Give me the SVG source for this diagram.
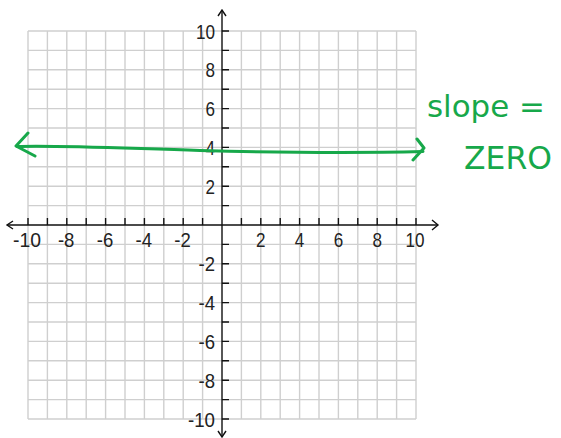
<svg xmlns="http://www.w3.org/2000/svg" width="561" height="438" viewBox="0 0 561 438">
<style>
.grid{stroke:#cfcfcf;stroke-width:1.4;fill:none}
.axis{stroke:#111;stroke-width:1.4;fill:none}
.lbl{font-family:"Liberation Sans",Arial,sans-serif;font-size:21px;fill:#222}
.green{stroke:#17a84a;stroke-width:3;fill:none;stroke-linecap:round;stroke-linejoin:round}
.hand{font-family:"DejaVu Sans","Liberation Sans",sans-serif;fill:#17a84a}
</style>
<rect width="561" height="438" fill="#fff"/>
<g id="grid">
<path class="grid" d="M28,31V419M47.4,31V419M66.8,31V419M86.2,31V419M105.6,31V419M125,31V419M144.4,31V419M163.8,31V419M183.2,31V419M202.6,31V419M241.4,31V419M260.8,31V419M280.2,31V419M299.6,31V419M319,31V419M338.4,31V419M357.8,31V419M377.2,31V419M396.6,31V419M416,31V419"/>
<path class="grid" d="M28,31H416M28,50.4H416M28,69.8H416M28,89.2H416M28,108.6H416M28,128H416M28,147.4H416M28,166.8H416M28,186.2H416M28,205.6H416M28,244.4H416M28,263.8H416M28,283.2H416M28,302.6H416M28,322H416M28,341.4H416M28,360.8H416M28,380.2H416M28,399.6H416M28,419H416"/>
</g>
<g id="axes">
<path class="axis" d="M7,225H438M222,10V437"/>
<path class="axis" d="M13,221L7,225L13,229M432,220L438,225L432,230M218,16L222,10L226,16M218,431L222,437L226,431"/>
<path class="axis" d="M222,31h7M222,50.4h7M222,69.8h7M222,89.2h7M222,108.6h7M222,128h7M222,147.4h7M222,166.8h7M222,186.2h7M222,205.6h7M222,244.4h7M222,263.8h7M222,283.2h7M222,302.6h7M222,322h7M222,341.4h7M222,360.8h7M222,380.2h7M222,399.6h7M222,419h7"/>
<path class="axis" d="M28,225v-7M47.4,225v-7M66.8,225v-7M86.2,225v-7M105.6,225v-7M125,225v-7M144.4,225v-7M163.8,225v-7M183.2,225v-7M202.6,225v-7M241.4,225v-7M260.8,225v-7M280.2,225v-7M299.6,225v-7M319,225v-7M338.4,225v-7M357.8,225v-7M377.2,225v-7M396.6,225v-7M416,225v-7"/>
</g>
<g id="y-labels" class="lbl" text-anchor="end">
<text x="215" y="38.5" textLength="19" lengthAdjust="spacingAndGlyphs">10</text>
<text x="215" y="77.3" textLength="9.5" lengthAdjust="spacingAndGlyphs">8</text>
<text x="215" y="116.1" textLength="9.5" lengthAdjust="spacingAndGlyphs">6</text>
<text x="215" y="154.9" textLength="9.5" lengthAdjust="spacingAndGlyphs">4</text>
<text x="215" y="193.7" textLength="9.5" lengthAdjust="spacingAndGlyphs">2</text>
<text x="215" y="271.3" textLength="16.5" lengthAdjust="spacingAndGlyphs">-2</text>
<text x="215" y="310.1" textLength="16.5" lengthAdjust="spacingAndGlyphs">-4</text>
<text x="215" y="348.9" textLength="16.5" lengthAdjust="spacingAndGlyphs">-6</text>
<text x="215" y="387.7" textLength="16.5" lengthAdjust="spacingAndGlyphs">-8</text>
<text x="215" y="426.5" textLength="27" lengthAdjust="spacingAndGlyphs">-10</text>
</g>
<g id="x-labels" class="lbl" text-anchor="middle">
<text x="27" y="247" textLength="28" lengthAdjust="spacingAndGlyphs">-10</text>
<text x="66.2" y="247" textLength="16.5" lengthAdjust="spacingAndGlyphs">-8</text>
<text x="105" y="247" textLength="16.5" lengthAdjust="spacingAndGlyphs">-6</text>
<text x="143.8" y="247" textLength="16.5" lengthAdjust="spacingAndGlyphs">-4</text>
<text x="182.6" y="247" textLength="16.5" lengthAdjust="spacingAndGlyphs">-2</text>
<text x="260.8" y="247" textLength="9.5" lengthAdjust="spacingAndGlyphs">2</text>
<text x="299.6" y="247" textLength="9.5" lengthAdjust="spacingAndGlyphs">4</text>
<text x="338.4" y="247" textLength="9.5" lengthAdjust="spacingAndGlyphs">6</text>
<text x="377.2" y="247" textLength="9.5" lengthAdjust="spacingAndGlyphs">8</text>
<text x="415" y="247" textLength="19" lengthAdjust="spacingAndGlyphs">10</text>
</g>
<g id="line-y4">
<path class="green" d="M17,146.5C50,145 90,147 200,150.5C280,152.5 340,153.5 423,151.5"/>
<path class="green" d="M28,133L16,146L35,156M417,139L424,148L413,160"/>
</g>
<g id="note">
<text class="hand" x="427" y="117" font-size="30" textLength="118" lengthAdjust="spacingAndGlyphs">slope =</text>
<text class="hand" x="464" y="169" font-size="32" textLength="88" lengthAdjust="spacingAndGlyphs">ZERO</text>
</g>
</svg>
